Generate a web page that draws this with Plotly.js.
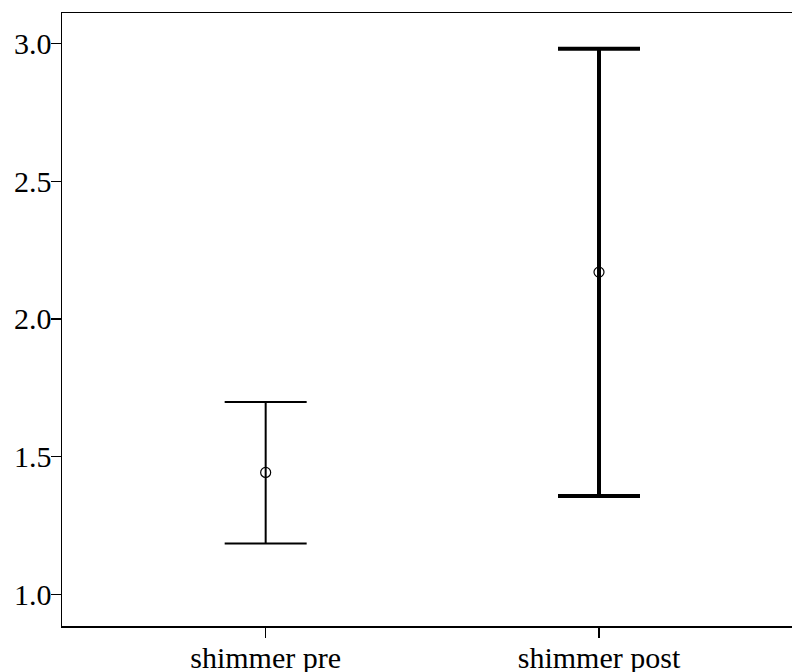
<!DOCTYPE html>
<html>
<head>
<meta charset="utf-8">
<script src="https://cdn.plot.ly/plotly-3.0.1.min.js"></script>
<style>html,body{margin:0;padding:0;background:#fff;}#chart{width:792px;height:672px;}</style>
</head>
<body>
<div id="chart"></div>
<script>
const categories = ["shimmer pre", "shimmer post"];
const means = [1.443, 2.170];
const upper = [1.699, 2.980];
const lower = [1.185, 1.358];
const yTicks = [1.0, 1.5, 2.0, 2.5, 3.0];
const yTickText = ["1.0", "1.5", "2.0", "2.5", "3.0"];
const lineWidths = [2, 4];

const traces = categories.map((c, i) => ({
  type: "scatter",
  mode: "markers",
  x: [c],
  y: [means[i]],
  marker: {symbol: "circle-open", size: 10, color: "#000", line: {width: 1.2, color: "#000"}},
  error_y: {
    type: "data",
    symmetric: false,
    array: [upper[i] - means[i]],
    arrayminus: [means[i] - lower[i]],
    color: "#000",
    thickness: lineWidths[i],
    width: 41
  },
  showlegend: false,
  hoverinfo: "skip"
}));

const layout = {
  width: 792, height: 672,
  margin: {l: 62, r: 0, t: 13, b: 46, pad: 0},
  paper_bgcolor: "#fff", plot_bgcolor: "#fff",
  font: {family: "Liberation Serif, Times New Roman, serif", size: 30, color: "#000"},
  xaxis: {
    type: "category",
    categoryorder: "array", categoryarray: categories,
    range: [-0.611, 1.579],
    showline: true, mirror: true, linecolor: "#000", linewidth: 1.5,
    ticks: "outside", ticklen: 10, tickwidth: 1.2, tickcolor: "#000",
    ticklabelstandoff: -6,
    showgrid: false, zeroline: false, fixedrange: true
  },
  yaxis: {
    range: [0.886, 3.11],
    tickvals: yTicks, ticktext: yTickText,
    showline: true, mirror: false, linecolor: "#000", linewidth: 1.5,
    ticks: "outside", ticklen: 10, tickwidth: 1.2, tickcolor: "#000",
    ticklabelstandoff: -7,
    showgrid: false, zeroline: false, fixedrange: true
  }
};

Plotly.newPlot("chart", traces, layout, {displayModeBar: false, staticPlot: true});
</script>
</body>
</html>
